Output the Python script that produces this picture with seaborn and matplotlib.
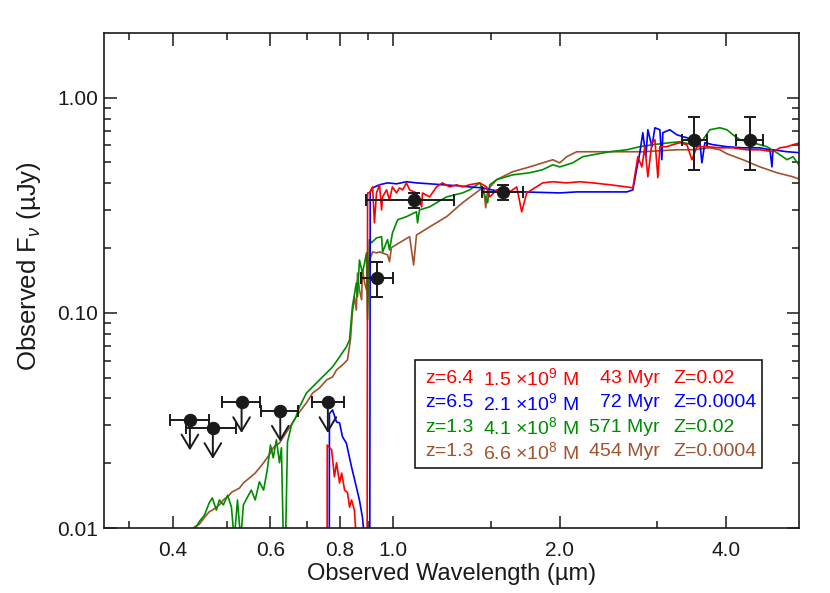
import matplotlib
matplotlib.use("Agg")
import matplotlib.pyplot as plt
from matplotlib.patches import Rectangle
from matplotlib.ticker import FixedLocator, FixedFormatter, NullFormatter
import numpy as np
import seaborn as sns

# model spectra: observed wavelength (micron) vs F_nu (microJy)
red_lam = [0.759, 0.760, 0.774, 0.783, 0.790, 0.800, 0.807, 0.817, 0.827, 0.834, 0.841,
           0.851, 0.858, 0.869, 0.892, 0.897, 0.899, 0.906, 0.918, 0.925, 0.933, 0.945,
           0.953, 0.957, 0.973, 0.985, 0.997, 1.014, 1.027, 1.040, 1.057, 1.071, 1.102,
           1.126, 1.130, 1.164, 1.198, 1.228, 1.265, 1.303, 1.335, 1.375, 1.434, 1.476,
           1.495, 1.539, 1.624, 1.673, 1.708, 1.744, 1.864, 1.944, 2.060, 2.175, 2.296,
           2.465, 2.646, 2.713, 2.770, 2.817, 2.852, 2.888, 2.937, 2.974, 3.011, 3.036,
           3.125, 3.204, 3.300, 3.398, 3.470, 3.542, 3.693, 3.898, 4.115, 4.363, 4.606,
           4.862, 5.007, 5.156, 5.286, 5.450]
red_flux = [0.001, 0.0243, 0.0231, 0.0173, 0.0201, 0.0162, 0.0180, 0.0150, 0.0146, 0.0125,
            0.0135, 0.0121, 0.0088, 0.007, 0.007, 0.004, 0.361, 0.361, 0.385, 0.262, 0.361,
            0.394, 0.301, 0.346, 0.373, 0.335, 0.385, 0.361, 0.381, 0.373, 0.402, 0.373,
            0.361, 0.311, 0.361, 0.346, 0.385, 0.402, 0.385, 0.394, 0.385, 0.394, 0.402,
            0.385, 0.346, 0.373, 0.365, 0.385, 0.295, 0.361, 0.402, 0.407, 0.402, 0.407,
            0.402, 0.394, 0.385, 0.381, 0.532, 0.477, 0.592, 0.429, 0.618, 0.638, 0.425,
            0.592, 0.592, 0.605, 0.618, 0.605, 0.515, 0.592, 0.592, 0.585, 0.585, 0.573,
            0.573, 0.561, 0.585, 0.592, 0.605, 0.618]

blue_lam = [0.766, 0.767, 0.777, 0.790, 0.800, 0.810, 0.823, 0.841, 0.858, 0.869, 0.880,
            0.888, 0.899, 0.907, 0.909, 0.918, 0.945, 0.977, 1.014, 1.057, 1.102, 1.164,
            1.228, 1.303, 1.375, 1.451, 1.539, 1.624, 1.715, 2.001, 2.148, 2.296, 2.465,
            2.646, 2.713, 2.793, 2.828, 2.864, 2.888, 2.937, 2.974, 3.036, 3.061, 3.074,
            3.165, 3.258, 3.342, 3.398, 3.483, 3.587, 3.617, 3.662, 3.786, 4.014, 4.291,
            4.606, 4.801, 4.842, 4.862, 5.156, 5.450]
blue_flux = [0.001, 0.0340, 0.0354, 0.0311, 0.0308, 0.0265, 0.0248, 0.0192, 0.0155, 0.0135,
             0.0112, 0.0088, 0.007, 0.004, 0.365, 0.381, 0.394, 0.402, 0.398, 0.407, 0.402,
             0.398, 0.394, 0.390, 0.385, 0.381, 0.369, 0.365, 0.365, 0.361, 0.365, 0.365,
             0.365, 0.365, 0.373, 0.555, 0.688, 0.532, 0.710, 0.592, 0.725, 0.710, 0.515,
             0.688, 0.710, 0.673, 0.659, 0.652, 0.638, 0.618, 0.498, 0.618, 0.605, 0.592,
             0.585, 0.585, 0.573, 0.477, 0.573, 0.561, 0.555]

green_lam = [0.430, 0.439, 0.446, 0.456, 0.465, 0.471, 0.479, 0.485, 0.493, 0.502, 0.510,
             0.516, 0.523, 0.530, 0.536, 0.545, 0.554, 0.563, 0.573, 0.583, 0.592, 0.600,
             0.607, 0.615, 0.623, 0.628, 0.633, 0.639, 0.644, 0.655, 0.666, 0.677, 0.697,
             0.715, 0.736, 0.758, 0.777, 0.800, 0.823, 0.834, 0.844, 0.858, 0.862, 0.869,
             0.880, 0.895, 0.899, 0.906, 0.914, 0.933, 0.953, 0.957, 0.977, 0.985, 0.997,
             1.019, 1.057, 1.102, 1.107, 1.116, 1.164, 1.249, 1.335, 1.375, 1.434, 1.482,
             1.495, 1.539, 1.645, 1.766, 1.864, 1.944, 2.001, 2.112, 2.203, 2.296, 2.465,
             2.646, 2.793, 2.949, 3.165, 3.300, 3.483, 3.632, 3.739, 3.898, 4.014, 4.115,
             4.237, 4.473, 4.742, 4.944, 5.156, 5.286, 5.450]
green_flux = [0.0088, 0.0100, 0.0107, 0.0115, 0.0131, 0.0138, 0.0121, 0.0135, 0.0128, 0.0142,
              0.0125, 0.0088, 0.0135, 0.0088, 0.0128, 0.0139, 0.0150, 0.0135, 0.0164, 0.0150,
              0.0186, 0.0243, 0.0212, 0.0257, 0.0201, 0.0236, 0.0088, 0.0088, 0.0251, 0.0301,
              0.0325, 0.0365, 0.0424, 0.0453, 0.0488, 0.0526, 0.0561, 0.0624, 0.0695, 0.0749,
              0.107, 0.138, 0.119, 0.176, 0.153, 0.190, 0.0928, 0.219, 0.212, 0.223, 0.226,
              0.192, 0.219, 0.196, 0.235, 0.271, 0.280, 0.295, 0.262, 0.301, 0.311, 0.346,
              0.361, 0.373, 0.402, 0.325, 0.394, 0.416, 0.438, 0.448, 0.463, 0.488, 0.477,
              0.498, 0.532, 0.543, 0.561, 0.573, 0.592, 0.605, 0.618, 0.624, 0.605, 0.638,
              0.710, 0.725, 0.710, 0.673, 0.638, 0.618, 0.592, 0.555, 0.515, 0.532, 0.477]

brown_lam = [0.420, 0.437, 0.446, 0.456, 0.465, 0.471, 0.485, 0.493, 0.505, 0.511, 0.527,
             0.536, 0.550, 0.563, 0.573, 0.583, 0.597, 0.607, 0.615, 0.623, 0.633, 0.649,
             0.666, 0.677, 0.697, 0.715, 0.736, 0.758, 0.777, 0.790, 0.810, 0.827, 0.837,
             0.844, 0.851, 0.858, 0.862, 0.869, 0.877, 0.880, 0.888, 0.895, 0.906, 0.918,
             0.933, 0.945, 0.977, 0.985, 0.993, 1.027, 1.071, 1.089, 1.102, 1.164, 1.249,
             1.335, 1.434, 1.458, 1.470, 1.482, 1.539, 1.645, 1.766, 1.864, 1.944, 2.001,
             2.060, 2.148, 2.296, 2.465, 2.646, 2.828, 3.036, 3.258, 3.483, 3.739, 3.898,
             4.014, 4.291, 4.606, 4.944, 5.286, 5.450]
brown_flux = [0.0088, 0.0101, 0.0104, 0.0112, 0.0119, 0.0121, 0.0128, 0.0135, 0.0142, 0.0147,
              0.0153, 0.0162, 0.0171, 0.0180, 0.0190, 0.0201, 0.0219, 0.0236, 0.0243, 0.0248,
              0.0265, 0.0292, 0.0325, 0.0346, 0.0382, 0.0424, 0.0448, 0.0488, 0.0504, 0.0543,
              0.0573, 0.0605, 0.0749, 0.100, 0.119, 0.103, 0.153, 0.128, 0.115, 0.158, 0.138,
              0.128, 0.176, 0.192, 0.190, 0.192, 0.186, 0.173, 0.201, 0.212, 0.226, 0.167,
              0.230, 0.251, 0.280, 0.325, 0.373, 0.381, 0.308, 0.373, 0.416, 0.453, 0.477,
              0.498, 0.515, 0.498, 0.532, 0.561, 0.561, 0.561, 0.561, 0.561, 0.567, 0.573,
              0.573, 0.585, 0.573, 0.549, 0.515, 0.477, 0.448, 0.429, 0.416]

# legend rows
model_z = ["z=6.4", "z=6.5", "z=1.3", "z=1.3"]
model_mass = ["1.5 ×10$^{9}$ M", "2.1 ×10$^{9}$ M", "4.1 ×10$^{8}$ M", "6.6 ×10$^{8}$ M"]
model_age = ["43 Myr", "72 Myr", "571 Myr", "454 Myr"]
model_metal = ["Z=0.02", "Z=0.0004", "Z=0.02", "Z=0.0004"]
model_colors = ["#ff0000", "#0000ff", "#008c00", "#a0522d"]

# photometry: upper limits
lim_lam = np.array([0.429, 0.472, 0.532, 0.625, 0.762])
lim_flux = np.array([0.0319, 0.0291, 0.0384, 0.0350, 0.0384])
lim_lam_lo = np.array([0.395, 0.422, 0.490, 0.578, 0.713])
lim_lam_hi = np.array([0.464, 0.520, 0.575, 0.674, 0.814])

# photometry: detections
det_lam = np.array([0.936, 1.090, 1.582, 3.503, 4.423])
det_flux = np.array([0.146, 0.333, 0.364, 0.636, 0.636])
det_lam_lo = np.array([0.873, 0.894, 1.447, 3.323, 4.168])
det_lam_hi = np.array([0.999, 1.286, 1.717, 3.688, 4.670])
det_flux_lo = np.array([0.119, 0.307, 0.333, 0.463, 0.463])
det_flux_hi = np.array([0.173, 0.360, 0.394, 0.810, 0.810])

x_major = [0.4, 0.6, 0.8, 1.0, 2.0, 4.0]
x_major_labels = ["0.4", "0.6", "0.8", "1.0", "2.0", "4.0"]
x_minor = [0.333, 0.5, 0.7, 0.9, 1.5, 3.0]
y_major = [0.01, 0.1, 1.0]
y_major_labels = ["0.01", "0.10", "1.00"]
y_minor = [0.02, 0.03, 0.04, 0.05, 0.06, 0.07, 0.08, 0.09,
           0.2, 0.3, 0.4, 0.5, 0.6, 0.7, 0.8, 0.9]

sns.set_theme(style="ticks")
plt.rcParams["font.family"] = ["Liberation Sans", "DejaVu Sans"]
plt.rcParams["mathtext.fontset"] = "custom"
plt.rcParams["mathtext.rm"] = "Liberation Sans"
plt.rcParams["mathtext.it"] = "Liberation Sans:italic"

fig = plt.figure(figsize=(8.3, 5.93), dpi=100)
ax = fig.add_axes([0.1253, 0.1096, 0.8374, 0.8348])
ax.set_xscale("log")
ax.set_yscale("log")

spectra = [(red_lam, red_flux), (blue_lam, blue_flux),
           (green_lam, green_flux), (brown_lam, brown_flux)]
for (lam, flux), c in list(zip(spectra, model_colors))[::-1]:
    sns.lineplot(x=lam, y=flux, ax=ax, color=c, lw=1.2, estimator=None, sort=False)

# upper limits with downward arrows
ax.errorbar(lim_lam, lim_flux, xerr=[lim_lam - lim_lam_lo, lim_lam_hi - lim_lam],
            fmt="none", ecolor="k", elinewidth=1.4, capsize=4, capthick=1.4, zorder=5)
for x, y in zip(lim_lam, lim_flux):
    ax.annotate("", xy=(x, y * 0.72), xytext=(x, y),
                arrowprops=dict(arrowstyle="->,head_length=0.5,head_width=0.3",
                                color="k", lw=1.4, shrinkA=0, shrinkB=0,
                                mutation_scale=20), zorder=5)

ax.errorbar(det_lam, det_flux,
            xerr=[det_lam - det_lam_lo, det_lam_hi - det_lam],
            yerr=[det_flux - det_flux_lo, det_flux_hi - det_flux],
            fmt="none", ecolor="k", elinewidth=1.4, capsize=4, capthick=1.4, zorder=5)
sns.scatterplot(x=np.concatenate([lim_lam, det_lam]), y=np.concatenate([lim_flux, det_flux]),
                ax=ax, color="k", s=80, edgecolor="k", zorder=6)

ax.set_xlim(0.3, 5.42)
ax.set_ylim(0.01, 2.0)
ax.xaxis.set_major_locator(FixedLocator(x_major))
ax.xaxis.set_major_formatter(FixedFormatter(x_major_labels))
ax.xaxis.set_minor_locator(FixedLocator(x_minor))
ax.xaxis.set_minor_formatter(NullFormatter())
ax.yaxis.set_major_locator(FixedLocator(y_major))
ax.yaxis.set_major_formatter(FixedFormatter(y_major_labels))
ax.yaxis.set_minor_locator(FixedLocator(y_minor))
ax.yaxis.set_minor_formatter(NullFormatter())

ax.tick_params(which="both", direction="in", top=True, right=True, color="k", width=1.1)
ax.tick_params(which="major", length=9, labelsize=15, labelcolor="k")
ax.tick_params(which="minor", length=5)
ax.tick_params(axis="x", which="major", pad=9)
ax.tick_params(axis="y", which="major", pad=4)
for s in ax.spines.values():
    s.set_linewidth(1.2)
    s.set_color("k")

ax.set_xlabel("Observed Wavelength (µm)", fontsize=17, color="k")
ax.set_ylabel("Observed F$_{\\nu}$ (µJy)", fontsize=18.5, color="k")
ax.xaxis.set_label_coords(0.5, -0.07)
ax.yaxis.set_label_coords(-0.088, 0.53)

# legend box
ax.add_patch(Rectangle((0.4475, 0.121), 0.4993, 0.218, transform=ax.transAxes,
                       facecolor="white", edgecolor="k", lw=1.2, zorder=7))
row_y = [0.303, 0.253, 0.203, 0.154]
for i, c in enumerate(model_colors):
    kw = dict(transform=ax.transAxes, color=c, fontsize=14, va="center", zorder=8)
    ax.text(0.4619, row_y[i], model_z[i], ha="left", **kw)
    ax.text(0.5453, row_y[i], model_mass[i], ha="left", **kw)
    ax.text(0.800, row_y[i], model_age[i], ha="right", **kw)
    ax.text(0.8187, row_y[i], model_metal[i], ha="left", **kw)

fig.savefig("out.png", dpi=100)
